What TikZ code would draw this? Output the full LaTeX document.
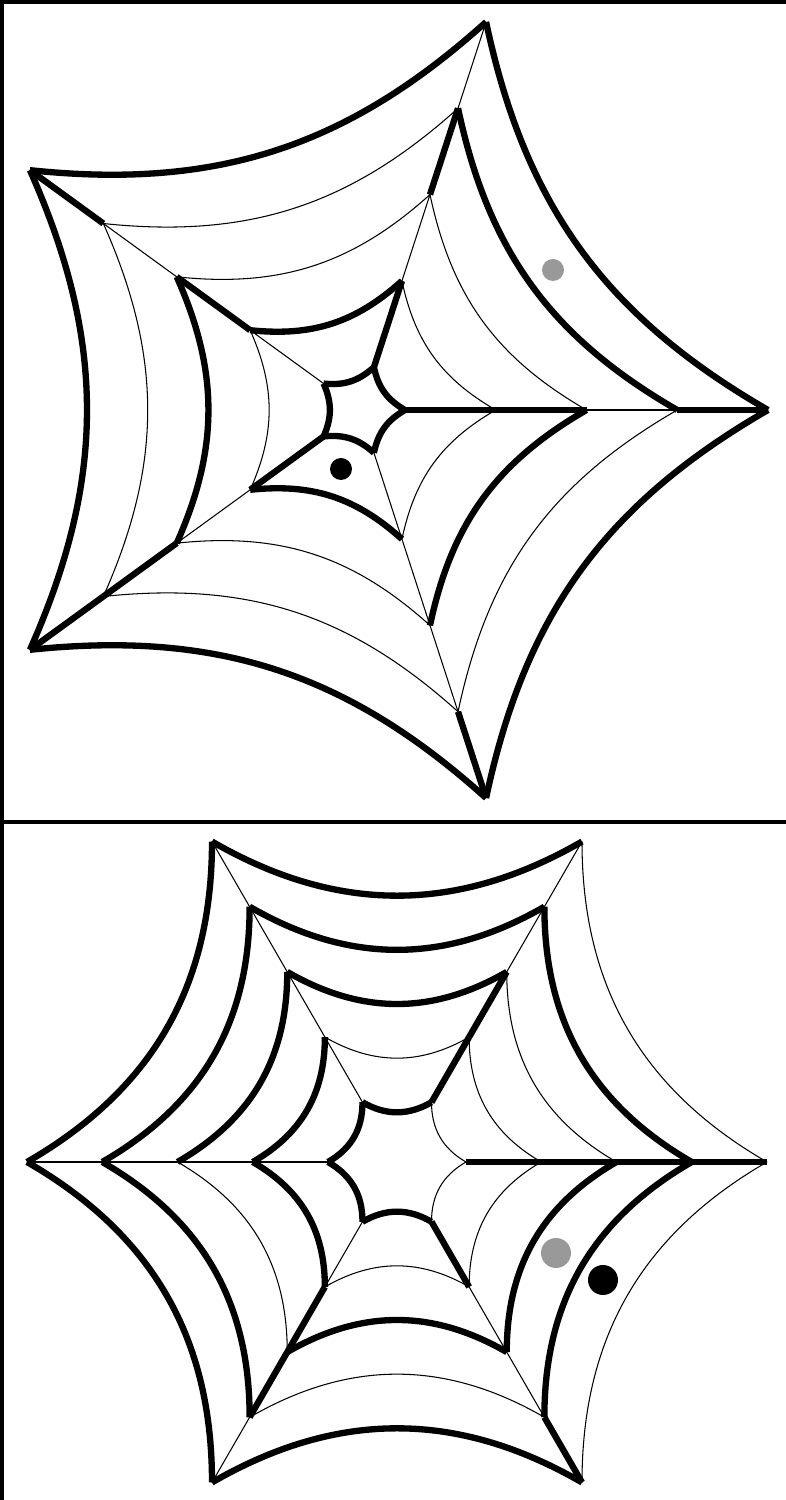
\documentclass[tikz,border=0pt]{standalone}
\usepackage{tikz}
\usetikzlibrary{calc}

\begin{document}
\begin{tikzpicture}[
    thread/.style={line width=0.3pt},
    silk/.style={line width=1.8pt},
    stone/.style={circle, inner sep=0pt, minimum size=0.22cm},
    frame/.style={line width=1pt}
  ]
  \useasboundingbox (0,0) rectangle (7.86,15);
  \draw[frame] (0.02,0) -- (0.02,14.98) -- (7.86,14.98);
  \draw[frame] (0.02,6.78) -- (7.86,6.78);

  % five-spoke web
  \coordinate (pc) at (3.60,10.90);
  \foreach \k/\r in {1/0.45,2/1.3575,3/2.265,4/3.1725,5/4.08}
    \foreach \j in {0,...,4}
      \coordinate (p\k-\j) at ($(pc)+(\j*72:\r)$);
  \foreach \k in {1,...,5}
    \foreach \j in {0,...,4}{
      \pgfmathtruncatemacro\n{mod(\j+1,5)}
      \draw[thread] (p\k-\j) to[bend left=24] (p\k-\n);
    }
  \foreach \j in {0,...,4}
    \draw[thread] (p1-\j) -- (p5-\j);
  \foreach \k/\j in {1/0,1/1,1/2,1/3,1/4,2/1,2/3,3/2,3/4,4/0,5/0,5/1,5/2,5/3,5/4}{
    \pgfmathtruncatemacro\n{mod(\j+1,5)}
    \draw[silk] (p\k-\j) to[bend left=24] (p\k-\n);
  }
  \foreach \j/\k in {0/1,0/2,0/4,1/1,1/3,2/2,2/4,3/1,3/3,3/4,4/4}{
    \pgfmathtruncatemacro\m{\k+1}
    \draw[silk] (p\k-\j) -- (p\m-\j);
  }
  \node[stone, fill=black!40] (pg) at (5.53,12.30) {};
  \node[stone, fill=black] (pb) at (3.41,10.31) {};

  % six-spoke web
  \coordinate (hc) at (3.97,3.38);
  \foreach \k/\r in {1/0.69,2/1.4425,3/2.195,4/2.9475,5/3.70}
    \foreach \j in {0,...,5}
      \coordinate (h\k-\j) at ($(hc)+(\j*60:\r)$);
  \foreach \k in {1,...,5}
    \foreach \j in {0,...,5}{
      \pgfmathtruncatemacro\n{mod(\j+1,6)}
      \draw[thread] (h\k-\j) to[bend left=30] (h\k-\n);
    }
  \foreach \j in {0,...,5}
    \draw[thread] (h1-\j) -- (h5-\j);
  \foreach \k/\j in {1/1,1/2,1/3,1/4,2/2,2/3,3/1,3/2,3/4,3/5,4/0,4/1,4/2,4/3,4/5,5/1,5/2,5/3,5/4}{
    \pgfmathtruncatemacro\n{mod(\j+1,6)}
    \draw[silk] (h\k-\j) to[bend left=30] (h\k-\n);
  }
  \foreach \j/\k in {0/1,0/2,0/3,0/4,1/1,1/2,4/2,4/3,5/1,5/4}{
    \pgfmathtruncatemacro\m{\k+1}
    \draw[silk] (h\k-\j) -- (h\m-\j);
  }
  \node[stone, minimum size=0.30cm, fill=black!40] (hg) at (5.56,2.47) {};
  \node[stone, minimum size=0.30cm, fill=black] (hb) at (6.03,2.20) {};
\end{tikzpicture}
\end{document}
